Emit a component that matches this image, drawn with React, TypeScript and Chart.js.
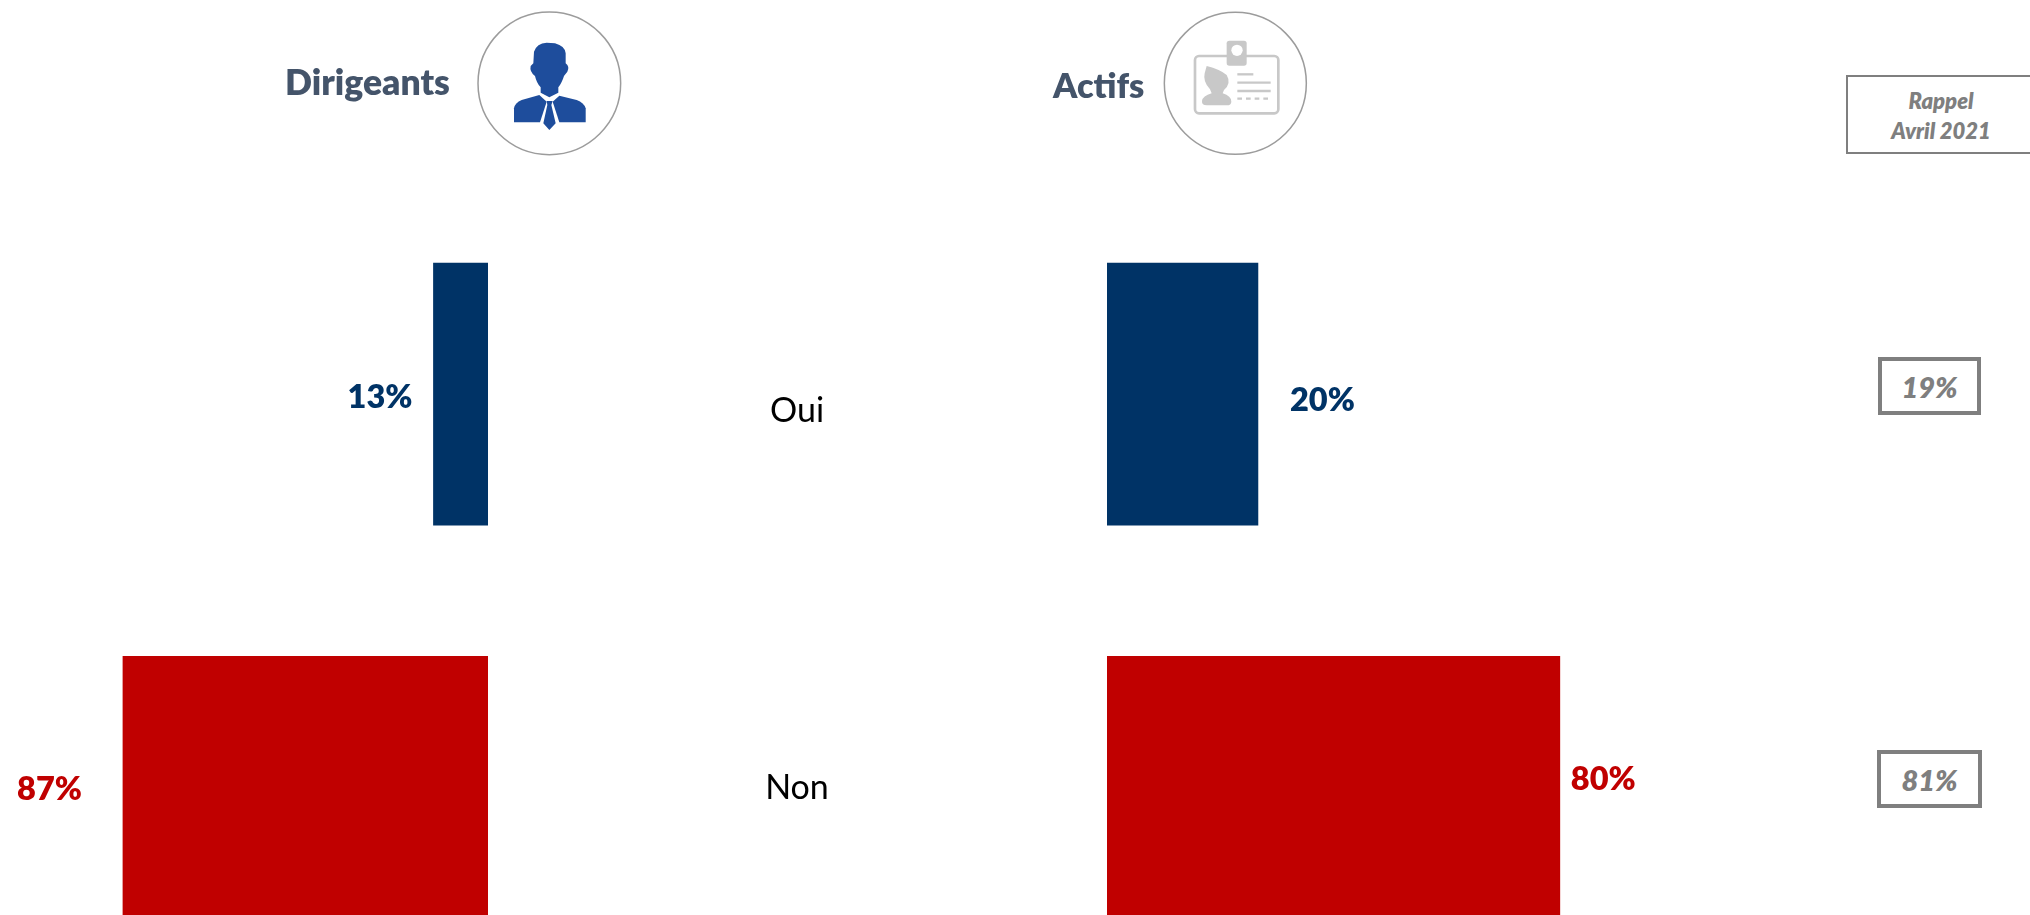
import React, { useEffect, useRef } from "react";
import { Chart, registerables } from "chart.js";

Chart.register(...registerables);

const categories = ["Oui", "Non"];
const dirigeants = [13, 87];
const actifs = [20, 80];
const rappelTitle = ["Rappel", "Avril 2021"];
const rappel = [19, 81];

const BLUE = "#003366";
const RED = "#C00000";
const barColors = [BLUE, RED];
const labelColors = [BLUE, "#C00000"];
const FONT = "Lato, Carlito, sans-serif";

// Each bar's scale length, chosen so bars have the reference's drawn lengths.
const dirigeantsAxisMax = [116.3, 116.3];
const actifsAxisMax = [79.5, 106];
const dirigeantsLabelShift = [{ gap: 21, dy: 3 }, { gap: 41, dy: 2 }];
const actifsLabelShift = [{ gap: 32, dy: 6 }, { gap: 11, dy: -8 }];
const categoryShift = [17, 1];

function makeChart(
  canvas: HTMLCanvasElement,
  values: number[],
  axisMax: number[],
  reverse: boolean,
  shifts: { gap: number; dy: number }[],
  padLeft: number,
  showCategories: boolean
) {
  const scales: any = {
    y: { type: "category", labels: categories, display: false, offset: true },
  };
  axisMax.forEach((max, i) => {
    scales["x" + i] = { type: "linear", axis: "x", min: 0, max, reverse, display: false };
  });
  const labelPlugin = {
    id: "valueLabels",
    afterDraw(chart: any) {
      const ctx = chart.ctx;
      ctx.save();
      ctx.textBaseline = "middle";
      values.forEach((v, i) => {
        const el = chart.getDatasetMeta(i).data[i];
        ctx.font = `800 32.5px ${FONT}`;
        ctx.fillStyle = labelColors[i];
        ctx.textAlign = reverse ? "right" : "left";
        const x = reverse ? el.x - shifts[i].gap : el.x + shifts[i].gap;
        ctx.fillText(`${v}%`, x, el.y + shifts[i].dy);
        if (showCategories) {
          ctx.font = `34px ${FONT}`;
          ctx.fillStyle = "#000000";
          ctx.textAlign = "center";
          ctx.fillText(categories[i], 97, el.y + categoryShift[i]);
        }
      });
      ctx.restore();
    },
  };
  return new Chart(canvas, {
    type: "bar",
    data: {
      labels: categories,
      datasets: values.map((v, i) => ({
        label: categories[i],
        data: categories.map((_, j) => (j === i ? v : null)),
        backgroundColor: barColors[i],
        xAxisID: "x" + i,
        grouped: false,
        barThickness: 262,
      })),
    } as any,
    options: {
      indexAxis: "y",
      animation: false,
      responsive: false,
      devicePixelRatio: 1,
      layout: { padding: { top: 197.5, left: padLeft, right: 0, bottom: 0 } },
      plugins: { legend: { display: false }, tooltip: { enabled: false } },
      scales,
    } as any,
    plugins: [labelPlugin],
  });
}

const abs = (o: React.CSSProperties): React.CSSProperties => ({ position: "absolute", ...o });

function Heading({ text, left, top, size }: { text: string; left: number; top: number; size: number }) {
  return (
    <div
      style={abs({
        left,
        top,
        font: `800 ${size}px/40px ${FONT}`,
        color: "#44546A",
        whiteSpace: "nowrap",
      })}
    >
      {text}
    </div>
  );
}

function RappelBox({ v, left, top, w, h }: { v: number; left: number; top: number; w: number; h: number }) {
  return (
    <div
      style={abs({
        left,
        top,
        width: w,
        height: h,
        boxSizing: "border-box",
        border: "4px solid #7F7F7F",
        display: "flex",
        alignItems: "center",
        justifyContent: "center",
        font: `italic 800 29px ${FONT}`,
        color: "#7F7F7F",
        paddingTop: 1,
      })}
    >
      {v}%
    </div>
  );
}

function PersonIcon() {
  return (
    <svg style={abs({ left: 260, top: 0 })} width={400} height={170} viewBox="0 0 1200 510">
      <circle cx={868} cy={250} r={214} fill="#fff" stroke="#9C9C9C" strokeWidth={4.5} />
      <g fill="#1E4D9C">
        <path d="M822 155 Q830 130 860 128 L885 130 Q915 138 917 160 L917 190 Q930 200 922 215 L912 228 Q905 250 895 262 L895 278 L868 292 L842 278 L842 262 Q830 250 825 228 Q808 215 812 198 L820 190 Z" />
        <path d="M762 367 L762 325 Q765 308 785 300 L838 285 L860 305 L840 367 Z" />
        <path d="M977 367 L977 325 Q972 308 950 300 L898 287 L878 305 L898 367 Z" />
        <path d="M860 303 L878 303 L874 315 L887 370 L868 390 L850 370 L862 315 Z" />
      </g>
    </svg>
  );
}

function CardIcon() {
  return (
    <svg style={abs({ left: 1030, top: 0 })} width={300} height={170} viewBox="0 0 900 510">
      <circle cx={616} cy={250} r={213} fill="#fff" stroke="#9C9C9C" strokeWidth={4.5} />
      <rect x={495} y={168} width={250} height={172} rx={12} fill="none" stroke="#C8C8C8" strokeWidth={8} />
      <rect x={590} y={122} width={60} height={75} rx={8} fill="#C8C8C8" />
      <circle cx={621} cy={151} r={17} fill="#fff" />
      <path
        fill="#C8C8C8"
        d="M530 198 Q570 208 590 225 Q605 250 582 270 L578 280 Q604 288 604 305 Q604 316 590 316 L530 316 Q515 316 516 303 Q518 288 545 280 L540 268 Q518 245 524 220 Z"
      />
      <g stroke="#C8C8C8" strokeWidth={7}>
        <line x1={622} y1={223} x2={670} y2={223} />
        <line x1={622} y1={248} x2={722} y2={248} />
        <line x1={622} y1={273} x2={722} y2={273} />
        <line x1={622} y1={296} x2={722} y2={296} strokeDasharray="14 12" />
      </g>
    </svg>
  );
}

export default function App() {
  const leftRef = useRef<HTMLCanvasElement>(null);
  const rightRef = useRef<HTMLCanvasElement>(null);

  useEffect(() => {
    const left = makeChart(leftRef.current!, dirigeants, dirigeantsAxisMax, true, dirigeantsLabelShift, 0, false);
    const right = makeChart(rightRef.current!, actifs, actifsAxisMax, false, actifsLabelShift, 407, true);
    return () => {
      left.destroy();
      right.destroy();
    };
  }, []);

  return (
    <div style={abs({ left: 0, top: 0, width: 2030, height: 915, overflow: "hidden", background: "#fff" })}>
      <canvas ref={leftRef} width={488} height={984} style={abs({ left: 0, top: 0 })} />
      <canvas ref={rightRef} width={1007} height={984} style={abs({ left: 700, top: 0 })} />

      <Heading text="Dirigeants" left={285} top={62} size={35.5} />
      <PersonIcon />
      <Heading text="Actifs" left={1053} top={65} size={34.3} />
      <CardIcon />

      <div
        style={abs({
          left: 1846,
          top: 75,
          width: 200,
          height: 79,
          boxSizing: "border-box",
          border: "2px solid #7F7F7F",
        })}
      />
      {rappelTitle.map((t, i) => (
        <div
          key={t}
          style={abs({
            left: 1841,
            width: 200,
            top: 87 + i * 30,
            textAlign: "center",
            font: `italic 800 22px/28px ${FONT}`,
            color: "#7F7F7F",
          })}
        >
          {t}
        </div>
      ))}
      <RappelBox v={rappel[0]} left={1878} top={357} w={103} h={58} />
      <RappelBox v={rappel[1]} left={1877} top={750} w={105} h={58} />
    </div>
  );
}
